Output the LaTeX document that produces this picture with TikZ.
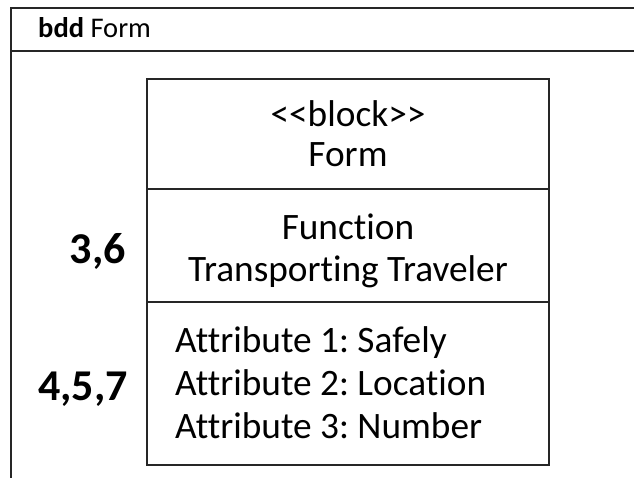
\documentclass[tikz,border=0pt]{standalone}
\usepackage{fontspec}
\setmainfont{Carlito}[Ligatures={NoCommon}]
\frenchspacing
\tikzset{
  frameline/.style={line width=1.8pt, black!85},
  txt/.style={inner sep=0pt, font=\fontsize{37.3}{44}\selectfont},
  num/.style={inner sep=0pt, font=\fontsize{44}{48}\selectfont\bfseries},
}
\begin{document}
\begin{tikzpicture}[x=1pt,y=-1pt]
\useasboundingbox (0,0) rectangle (634,478);
\fill[white] (0,0) rectangle (634,478);
% outer frame (cropped on right and bottom)
\draw[frameline] (640,8) -- (11,8) -- (11,485);
\draw[frameline] (11,51) -- (640,51);
\node[anchor=base west, inner sep=0pt, font=\fontsize{28.5}{30}\selectfont] (title) at (38,38) {\textbf{bdd} Form};
% block
\node[draw, frameline, minimum width=402pt, minimum height=386pt, inner sep=0pt] (blk) at (348,272) {};
\coordinate (d1w) at (147,189); \coordinate (d1e) at (549,189);
\coordinate (d2w) at (147,302); \coordinate (d2e) at (549,302);
\draw[frameline] (d1w) -- (d1e);
\draw[frameline] (d2w) -- (d2e);
\node[txt, anchor=base] (st) at (348,127) {{<}{<}block{>}{>}};
\node[txt, anchor=base] (nm) at (348,167) {Form};
\node[txt, anchor=base] (f1) at (348,240) {Function};
\node[txt, anchor=base] (f2) at (348,281) {Transporting Traveler};
\node[txt, anchor=base west] (a1) at (175,352) {Attribute 1: Safely};
\node[txt, anchor=base west] (a2) at (175,395) {Attribute 2: Location};
\node[txt, anchor=base west] (a3) at (175,438) {Attribute 3: Number};
\node[num, anchor=base east] (n1) at (126,263) {3,6};
\node[num, anchor=base east] (n2) at (128,400) {4,5,7};
\end{tikzpicture}
\end{document}
